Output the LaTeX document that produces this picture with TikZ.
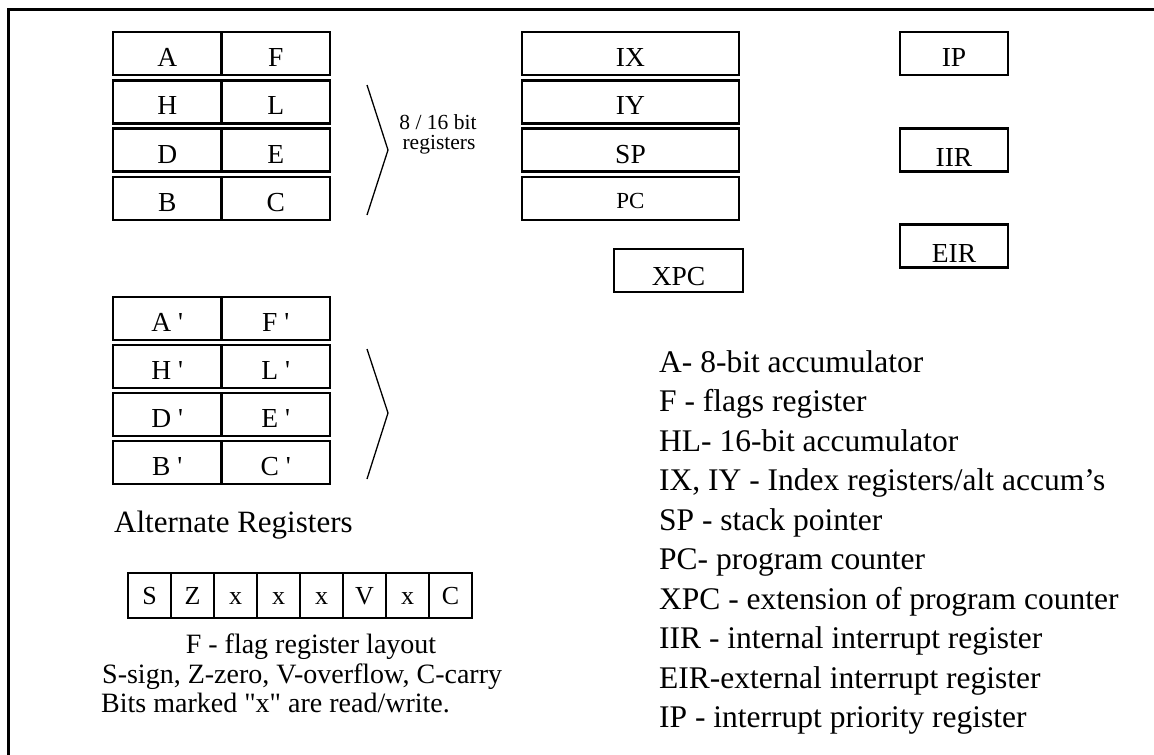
\documentclass[tikz,border=0pt]{standalone}
\usepackage{fontspec}
\setmainfont{Liberation Serif}
\usetikzlibrary{calc}

\begin{document}
\begin{tikzpicture}[x=1pt,y=-1pt,
  regcell/.style={rectangle,draw,line width=2.4pt,minimum width=108.5pt,minimum height=43pt,
    inner sep=0pt,text height=26pt,text depth=0pt,font=\fontsize{27.5pt}{30pt}\selectfont},
  regwide/.style={regcell,minimum width=217pt},
  regshort/.style={regcell,minimum width=108pt},
  flagbit/.style={rectangle,draw,line width=2pt,minimum width=43pt,minimum height=45pt,
    inner sep=0pt,text height=17pt,text depth=0pt,font=\fontsize{26pt}{28pt}\selectfont},
  flagtxt/.style={inner sep=0pt,font=\fontsize{28pt}{30pt}\selectfont},
  legend/.style={anchor=base west,inner sep=0pt,font=\fontsize{31.5pt}{34pt}\selectfont},
  brk/.style={line width=1.3pt}]

  \useasboundingbox (0,0) rectangle (1154,755);
  \draw[line width=2.8pt] (8.7,755) -- (8.7,9.3) -- (1154,9.3);

  % main register pairs
  \foreach \hi/\lo [count=\i from 0] in {A/F,H/L,D/E,B/C} {
    \node[regcell] (reg-\hi) at (167.25,{53.5+48.3*\i}) {\hi};
    \node[regcell] (reg-\lo) at (275.75,{53.5+48.3*\i}) {\lo};
  }
  \draw[brk] (367,85) -- (388,150) -- (367,215);
  \node[anchor=base,inner sep=0pt,font=\fontsize{21.5pt}{20pt}\selectfont] (bitlbl) at (438,129) {8 / 16 bit};
  \node[anchor=base,inner sep=0pt,font=\fontsize{21.5pt}{20pt}\selectfont] (reglbl) at (439,149) {registers};

  % alternate register pairs
  \foreach \hi/\lo [count=\i from 0] in {A/F,H/L,D/E,B/C} {
    \node[regcell] (alt-\hi) at (167.25,{318.5+48*\i}) {\hi\ \textquotesingle};
    \node[regcell] (alt-\lo) at (275.75,{318.5+48*\i}) {\lo\ \textquotesingle};
  }
  \draw[brk] (367,349) -- (388,413) -- (367,479);
  \node[anchor=base west,inner sep=0pt,font=\fontsize{31pt}{34pt}\selectfont] (altlbl) at (114,532) {Alternate Registers};

  % index, stack and program counter
  \foreach \r [count=\i from 0] in {IX,IY,SP}
    \node[regwide] (\r) at (630.5,{53.5+48.3*\i}) {\r};
  \node[regwide,text height=20pt,font=\fontsize{23pt}{26pt}\selectfont] (PC) at (630.5,198.4) {PC};
  \node[regcell,minimum width=129pt,text height=30pt] (XPC) at (678.5,270.5) {XPC};

  % interrupt registers
  \node[regshort] (IP) at (954,53.5) {IP};
  \node[regshort,text height=32pt] (IIR) at (954,150) {IIR};
  \node[regshort,text height=32pt] (EIR) at (954,246) {EIR};

  % flag register
  \foreach \b [count=\i from 0] in {S,Z,x,x,x,V,x,C}
    \node[flagbit] (bit-\i) at ({149.5+43*\i},595.5) {\b};
  \node[flagtxt,anchor=base] (flaglbl) at (311,653) {F - flag register layout};
  \node[flagtxt,anchor=base west] (flagkey) at (102,683) {S-sign, Z-zero, V-overflow, C-carry};
  \node[flagtxt,anchor=base west] (flagrw) at (101,712) {Bits marked \textquotedbl x\textquotedbl\ are read/write.};

  % legend
  \foreach \t [count=\i from 0] in {A- 8-bit accumulator, F - flags register, HL- 16-bit accumulator,
      {IX, IY - Index registers/alt accum’s}, SP - stack pointer, PC- program counter,
      XPC - extension of program counter, IIR - internal interrupt register,
      EIR-external interrupt register, IP - interrupt priority register}
    \node[legend] (leg-\i) at (659,{372+39.5*\i}) {\t};

\end{tikzpicture}
\end{document}
